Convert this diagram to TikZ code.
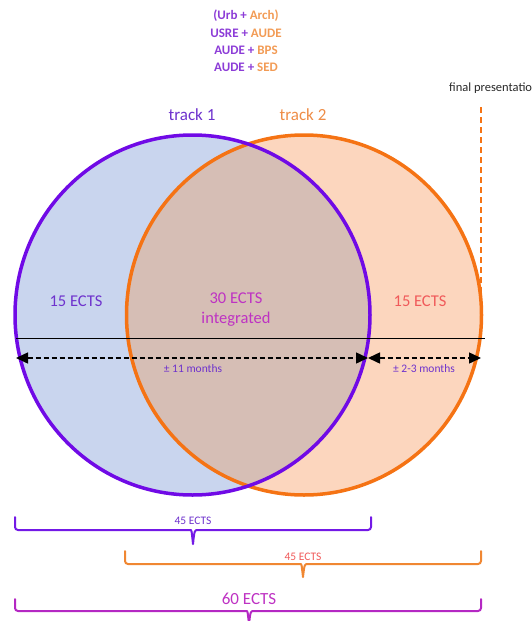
\documentclass[tikz,border=0pt]{standalone}
\usepackage{fontspec}
\setmainfont{Carlito}
\usetikzlibrary{arrows.meta}
\definecolor{purpleline}{RGB}{112,10,230}
\definecolor{orangeline}{RGB}{245,115,20}
\definecolor{bluefill}{RGB}{201,213,238}
\definecolor{peachfill}{RGB}{252,214,190}
\definecolor{overlapfill}{RGB}{214,190,181}
\definecolor{txtpurple}{RGB}{110,50,205}
\definecolor{txtmagenta}{RGB}{190,50,195}
\definecolor{txtcoral}{RGB}{240,90,90}
\definecolor{txtorange}{RGB}{238,140,70}
\definecolor{toppurple}{RGB}{140,60,215}
\definecolor{toporange}{RGB}{242,155,85}
\definecolor{bracepurple}{RGB}{115,25,230}
\definecolor{braceorange}{RGB}{240,135,50}
\definecolor{bracemagenta}{RGB}{180,40,195}
\definecolor{fptext}{RGB}{40,40,40}
\tikzset{
  ring/.style={line width=3.5pt},
  bigtxt/.style={font=\fontsize{16.5}{19}\selectfont, inner sep=0pt},
  smalltxt/.style={font=\fontsize{11.5}{13}\selectfont, inner sep=0pt},
  toptxt/.style={font=\bfseries\fontsize{13}{15}\selectfont, inner sep=0pt},
  spanarrow/.style={line width=1.5pt, dash pattern=on 5pt off 3pt,
    {Triangle[length=12pt,width=11pt]}-{Triangle[length=12pt,width=11pt]}},
  bracestyle/.style={line width=2pt, line cap=round, line join=round},
}
\newcommand{\ectsbrace}[7]{%
  % color, x1, x2, xm, ytop, yline, ybottom
  \draw[bracestyle, #1, rounded corners=3pt] (#2,#5) -- (#2,#6) -- (#4-5,#6)
     [sharp corners] .. controls (#4-1.5,#6) .. (#4,#7)
     .. controls (#4+1.5,#6) .. (#4+5,#6)
     [rounded corners=3pt] -- (#3,#6) -- (#3,#5);}
\begin{document}
\begin{tikzpicture}[x=1pt,y=-1pt]
\useasboundingbox (0,0) rectangle (531,621);
% circles
\fill[bluefill] (192.5,315) ellipse [x radius=177.5, y radius=180];
\fill[peachfill] (304,315) ellipse [x radius=177.5, y radius=180];
\begin{scope}
  \clip (192.5,315) ellipse [x radius=177.5, y radius=180];
  \fill[overlapfill] (304,315) ellipse [x radius=177.5, y radius=180];
\end{scope}
% final presentation marker
\node[font=\fontsize{12.5}{14}\selectfont, fptext, anchor=west, inner sep=0pt] (fp) at (449,88) {final presentation};
\coordinate (fptop) at (481,107);
\coordinate (fpbot) at (481,318);
\draw[orangeline, line width=2pt, dash pattern=on 6pt off 4pt] (fptop) -- (fpbot);
\draw[orangeline, ring] (304,315) ellipse [x radius=177.5, y radius=180];
\draw[purpleline, ring] (192.5,315) ellipse [x radius=177.5, y radius=180];
% horizontal line
\coordinate (hl) at (16,338);
\coordinate (hr) at (485,338);
\draw[black, line width=0.8pt] (hl) -- (hr);
% span arrows
\coordinate (aL) at (16,358);
\coordinate (aM) at (368,358);
\coordinate (aR) at (481,358);
\draw[spanarrow] (aL) -- (aM);
\draw[spanarrow] (aM) -- (aR);
\node[smalltxt, txtpurple] (m11) at (193,369) {± 11 months};
\node[smalltxt, txtpurple] (m23) at (424,369) {± 2-3 months};
% texts in circles
\node[bigtxt, txtpurple] (e15a) at (76,301) {15 ECTS};
\node[bigtxt, txtmagenta, align=center] (e30) at (236,310) {30 ECTS\\[1pt]integrated};
\node[bigtxt, txtcoral] (e15b) at (420,301) {15 ECTS};
% track labels
\node[font=\fontsize{17}{20}\selectfont, inner sep=0pt, txtpurple] (t1) at (192,115) {track 1};
\node[font=\fontsize{17}{20}\selectfont, inner sep=0pt, txtorange] (t2) at (303,115) {track 2};
% top combos
\node[toptxt] (c1) at (246,16) {\textcolor{toppurple}{(Urb +} \textcolor{toporange}{Arch)}};
\node[toptxt] (c2) at (246,33) {\textcolor{toppurple}{USRE +} \textcolor{toporange}{AUDE}};
\node[toptxt] (c3) at (246,50) {\textcolor{toppurple}{AUDE +} \textcolor{toporange}{BPS}};
\node[toptxt] (c4) at (246,67) {\textcolor{toppurple}{AUDE +} \textcolor{toporange}{SED}};
% braces
\ectsbrace{bracepurple}{15}{371}{193}{517}{530}{544}
\node[smalltxt, txtpurple] (b1) at (193,521) {45 ECTS};
\ectsbrace{braceorange}{125}{481}{303}{551}{564}{577}
\node[smalltxt, txtcoral] (b2) at (303,557) {45 ECTS};
\ectsbrace{bracemagenta}{15}{481}{249}{599}{611}{624}
\node[font=\fontsize{17}{20}\selectfont, inner sep=0pt, txtmagenta] (b3) at (249,599) {60 ECTS};
\end{tikzpicture}
\end{document}
